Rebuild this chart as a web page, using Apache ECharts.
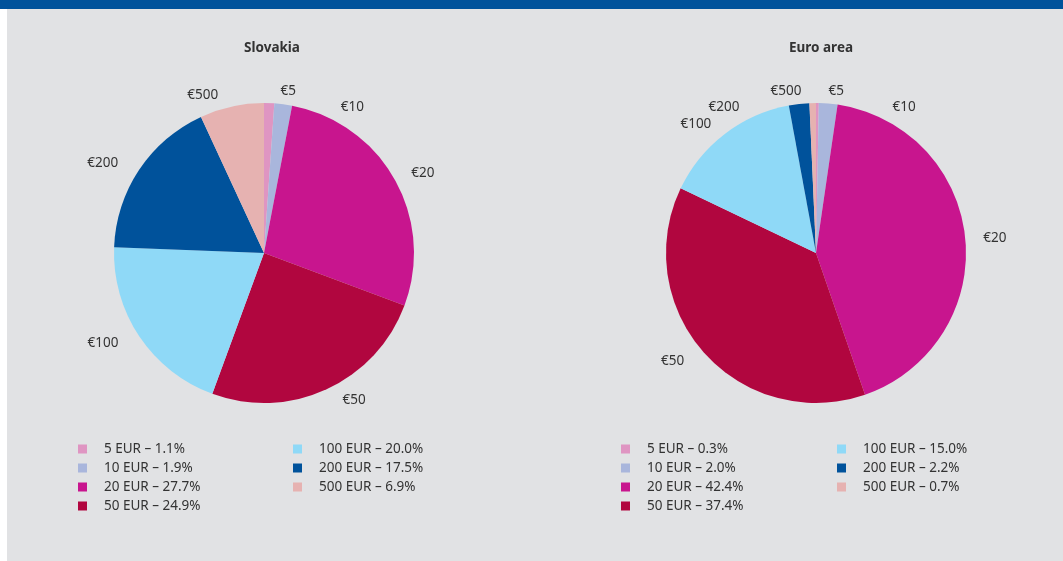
<!DOCTYPE html>
<html>
<head>
<meta charset="utf-8">
<script src="https://cdn.jsdelivr.net/npm/echarts@6/dist/echarts.min.js"></script>
<style>
  html,body{margin:0;padding:0;background:#fff}
  #chart{width:1063px;height:561px}
</style>
</head>
<body>
<div id="chart"></div>
<script>
// banknote denominations and shares (%)
const denoms = [5, 10, 20, 50, 100, 200, 500]
const slovakia = [1.1, 1.9, 27.7, 24.9, 20.0, 17.5, 6.9]
const euroArea = [0.3, 2.0, 42.4, 37.4, 15.0, 2.2, 0.7]
const colors = ['#df95c2', '#a9b6dc', '#c8158e', '#b1063f', '#8fd9f7', '#00529b', '#e6b2b1']

const names = denoms.map(d => d + ' EUR')
const fnt = '"Noto Sans", "Open Sans", sans-serif'

const pct = (arr, name) => {
  let i = names.indexOf(name)
  return name + ' – ' + arr[i].toFixed(1) + '%'
}

const makeLegend = (arr, left, items) => ({
  orient: 'vertical',
  left: left,
  top: 442,
  padding: 0,
  itemWidth: 9,
  itemHeight: 9,
  itemGap: 5,
  icon: 'rect',
  selectedMode: false,
  data: items,
  formatter: n => pct(arr, n),
  textStyle: {fontFamily: fnt, fontSize: 13.5, color: '#333', lineHeight: 14, padding: [0, 0, 0, 12]}
})

const makePie = (name, arr, cx) => ({
  name: name,
  type: 'pie',
  center: [cx, 253],
  radius: 150,
  startAngle: 90,
  clockwise: true,
  silent: true,
  label: {
    show: true,
    position: 'outside',
    formatter: p => '€' + denoms[p.dataIndex],
    fontFamily: fnt,
    fontSize: 13.5,
    color: '#333'
  },
  labelLine: {show: false, length: 12, length2: 6},
  itemStyle: {borderWidth: 0},
  data: names.map((n, i) => ({name: n, value: arr[i], itemStyle: {color: colors[i]}}))
})

let myChart = echarts.init(document.getElementById('chart'))
let option = {
  backgroundColor: '#e1e2e4',
  animation: false,
  graphic: [
    {type: 'rect', shape: {x: 0, y: 0, width: 7, height: 561}, style: {fill: '#ffffff'}},
    {type: 'rect', shape: {x: 0, y: 0, width: 1063, height: 9}, style: {fill: '#00529b'}}
  ],
  title: [
    {text: 'Slovakia', left: 267, top: 36, textAlign: 'center',
      textStyle: {fontFamily: fnt, fontSize: 13.5, fontWeight: 'bold', color: '#333'}},
    {text: 'Euro area', left: 816, top: 36, textAlign: 'center',
      textStyle: {fontFamily: fnt, fontSize: 13.5, fontWeight: 'bold', color: '#333'}}
  ],
  legend: [
    makeLegend(slovakia, 78, names.slice(0, 4)),
    makeLegend(slovakia, 293, names.slice(4)),
    makeLegend(euroArea, 621, names.slice(0, 4)),
    makeLegend(euroArea, 837, names.slice(4))
  ],
  series: [
    makePie('Slovakia', slovakia, 264),
    makePie('Euro area', euroArea, 816)
  ]
}
myChart.setOption(option)
</script>
</body>
</html>
